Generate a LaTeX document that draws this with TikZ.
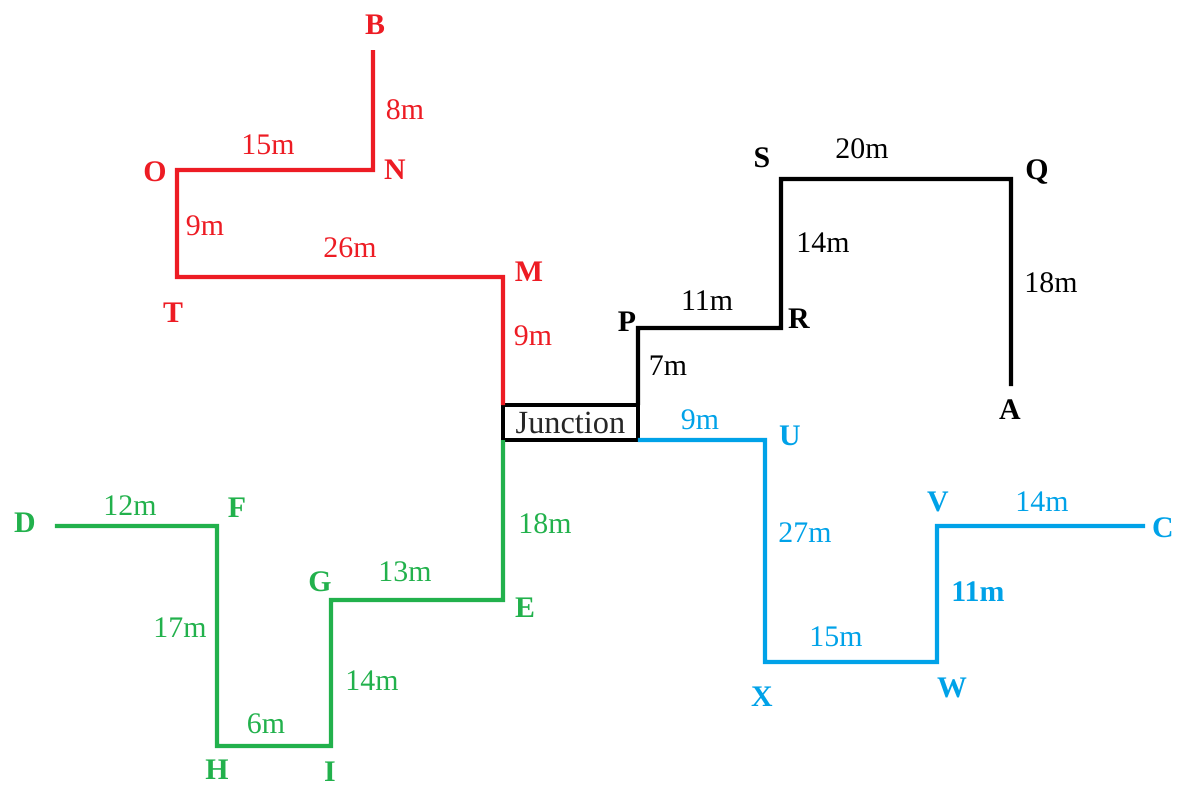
\documentclass[tikz,border=0pt]{standalone}
\usepackage{fontspec}
\setmainfont{Liberation Serif}
\usepackage{xcolor}
\definecolor{pipered}{HTML}{ED1C24}
\definecolor{pipeblue}{HTML}{00A2E8}
\definecolor{pipegreen}{HTML}{22B14C}
\tikzset{
  pipe/.style = {line width=1.2pt, line join=miter}
}
\tikzset{
  point label/.style = {font = \bfseries\fontsize{8.5}{10}\selectfont}
}
\tikzset{
  length label/.style = {font = \fontsize{8.5}{10}\selectfont}
}

\begin{document}
\begin{tikzpicture}[x=0.1mm, y=-0.1mm]
  \useasboundingbox (0,0) rectangle (1184,798);

  \node[draw, pipe, minimum width=13.5mm, minimum height=3.5mm,
    inner sep=0pt, outer sep=0pt, font=\fontsize{9.2}{10}\selectfont, text=black!85]
    (J) at (570.5,422.5) {Junction};

  % red branch
  \coordinate (B) at (373,50);
  \coordinate (N) at (373,170);
  \coordinate (O) at (177,170);
  \coordinate (T) at (177,277);
  \coordinate (M) at (503,277);
  \draw[pipe, pipered] (B) -- (N) -- (O) -- (T) -- (M) -- (J.north west);

  \node[point label, pipered] (lB) at (375,25) {B};
  \node[point label, pipered] (lN) at (395,170) {N};
  \node[point label, pipered] (lO) at (155,172) {O};
  \node[point label, pipered] (lT) at (173,313) {T};
  \node[point label, pipered] (lM) at (529,272) {M};
  \node[length label, pipered] (dBN) at (405,110) {8m};
  \node[length label, pipered] (dNO) at (268,145) {15m};
  \node[length label, pipered] (dOT) at (205,226) {9m};
  \node[length label, pipered] (dTM) at (350,248) {26m};
  \node[length label, pipered] (dMJ) at (533,336) {9m};

  % black branch
  \coordinate (P) at (638,328);
  \coordinate (R) at (781,328);
  \coordinate (S) at (781,179);
  \coordinate (Q) at (1011,179);
  \coordinate (A) at (1011,386);
  \draw[pipe, black] (J.north east) -- (P) -- (R) -- (S) -- (Q) -- (A);

  \node[point label] (lP) at (627,322) {P};
  \node[point label] (lR) at (799,319) {R};
  \node[point label] (lS) at (762,158) {S};
  \node[point label] (lQ) at (1037,172) {Q};
  \node[point label] (lA) at (1010,410) {A};
  \node[length label] (dJP) at (668,366) {7m};
  \node[length label] (dPR) at (707,301) {11m};
  \node[length label] (dRS) at (823,243) {14m};
  \node[length label] (dSQ) at (862,149) {20m};
  \node[length label] (dQA) at (1051,283) {18m};

  % blue branch
  \coordinate (U) at (765,440);
  \coordinate (X) at (765,662);
  \coordinate (W) at (937,662);
  \coordinate (V) at (937,526);
  \coordinate (C) at (1145,526);
  \draw[pipe, pipeblue] (J.south east) -- (U) -- (X) -- (W) -- (V) -- (C);

  \node[point label, pipeblue] (lU) at (790,436) {U};
  \node[point label, pipeblue] (lX) at (762,697) {X};
  \node[point label, pipeblue] (lW) at (952,688) {W};
  \node[point label, pipeblue] (lV) at (938,502) {V};
  \node[point label, pipeblue] (lC) at (1163,528) {C};
  \node[length label, pipeblue] (dJU) at (700,420) {9m};
  \node[length label, pipeblue] (dUX) at (805,533) {27m};
  \node[length label, pipeblue] (dXW) at (836,637) {15m};
  \node[length label, pipeblue, font=\bfseries\fontsize{8.5}{10}\selectfont] (dWV) at (978,592) {11m};
  \node[length label, pipeblue] (dVC) at (1042,502) {14m};

  % green branch
  \coordinate (E) at (503,600);
  \coordinate (G) at (331,600);
  \coordinate (I) at (331,746);
  \coordinate (H) at (217,746);
  \coordinate (F) at (217,526);
  \coordinate (D) at (55,526);
  \draw[pipe, pipegreen] (J.south west) -- (E) -- (G) -- (I) -- (H) -- (F) -- (D);

  \node[point label, pipegreen] (lE) at (525,608) {E};
  \node[point label, pipegreen] (lG) at (320,582) {G};
  \node[point label, pipegreen] (lI) at (330,772) {I};
  \node[point label, pipegreen] (lH) at (217,770) {H};
  \node[point label, pipegreen] (lF) at (237,508) {F};
  \node[point label, pipegreen] (lD) at (25,523) {D};
  \node[length label, pipegreen] (dJE) at (545,524) {18m};
  \node[length label, pipegreen] (dEG) at (405,572) {13m};
  \node[length label, pipegreen] (dGI) at (372,681) {14m};
  \node[length label, pipegreen] (dIH) at (266,724) {6m};
  \node[length label, pipegreen] (dHF) at (180,628) {17m};
  \node[length label, pipegreen] (dFD) at (130,506) {12m};
\end{tikzpicture}
\end{document}
